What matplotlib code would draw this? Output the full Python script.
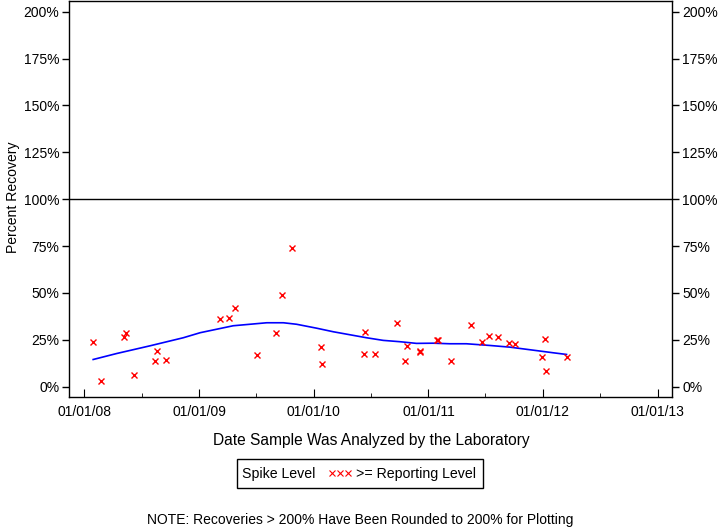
import matplotlib
matplotlib.use('Agg')
import matplotlib.pyplot as plt
import matplotlib.dates as mdates
from matplotlib.lines import Line2D
from matplotlib.patches import Rectangle
import pandas as pd

plt.rcParams['font.family'] = ['Liberation Sans', 'DejaVu Sans']

# Spike recoveries (all >= reporting level)
dates = ['2008-01-29', '2008-02-22', '2008-05-06', '2008-05-14', '2008-06-08',
         '2008-08-18', '2008-08-14', '2008-09-18', '2009-03-09', '2009-04-05',
         '2009-04-26', '2009-07-03', '2009-09-01', '2009-09-20', '2009-10-25',
         '2010-01-24', '2010-01-26', '2010-06-09', '2010-06-14', '2010-07-15',
         '2010-09-22', '2010-10-19', '2010-10-25', '2010-12-06', '2010-12-05',
         '2011-01-27', '2011-02-01', '2011-03-15', '2011-05-17', '2011-06-21',
         '2011-07-13', '2011-08-11', '2011-09-14', '2011-10-04', '2011-12-29',
         '2012-01-09', '2012-01-10', '2012-03-17']
recovery = [24.0, 3.0, 26.6, 28.8, 6.0,
            19.2, 13.8, 14.5, 36.2, 36.4,
            41.9, 17.0, 28.5, 49.0, 73.8,
            21.3, 12.2, 17.6, 29.3, 17.4,
            34.1, 13.8, 21.6, 19.0, 18.5,
            24.8, 24.8, 13.8, 33.0, 24.1,
            27.3, 26.3, 23.4, 22.9, 16.0,
            25.6, 8.5, 15.6]

# smoothed trend line
trend_dates = ['2008-01-29', '2008-04-13', '2008-07-28', '2008-11-11', '2009-01-04',
               '2009-04-19', '2009-08-04', '2009-09-26', '2009-11-07', '2010-01-10',
               '2010-03-04', '2010-04-26', '2010-06-18', '2010-08-10', '2010-10-02',
               '2010-11-24', '2011-01-16', '2011-03-10', '2011-05-02', '2011-07-15',
               '2011-09-17', '2011-11-30', '2012-02-02', '2012-03-16']
trend = [14.5, 17.7, 21.8, 26.1, 28.8,
         32.5, 34.1, 34.1, 33.3, 31.2,
         29.3, 27.7, 26.1, 24.7, 24.0,
         23.1, 23.2, 22.9, 22.9, 22.0,
         21.1, 19.5, 18.1, 17.2]

yticks = [0, 25, 50, 75, 100, 125, 150, 175, 200]
xtick_dates = ['2008-01-01', '2009-01-01', '2010-01-01', '2011-01-01', '2012-01-01', '2013-01-01']

x = pd.to_datetime(dates)
xt = pd.to_datetime(trend_dates)

fig = plt.figure(figsize=(7.2, 5.28), dpi=100)
ax = fig.add_axes([69 / 720, 1 - 397 / 528, 603.3 / 720, 396.5 / 528])

ax.axhline(100, color='black', lw=1)
ax.plot(xt, trend, color='blue', lw=1.2)
ax.plot(x, recovery, 'x', color='red', ms=5, mew=1)

ax.set_xlim(pd.Timestamp('2007-11-13'), pd.Timestamp('2013-02-16'))
ax.set_ylim(-5.5, 206)

ax.set_yticks(yticks)
ax.set_yticklabels([f'{v}%' for v in yticks])
ax.tick_params(axis='y', direction='out', length=5, labelsize=10,
               right=True, labelright=True, width=1, pad=2)
ax.set_xticks(pd.to_datetime(xtick_dates))
ax.xaxis.set_major_formatter(mdates.DateFormatter('%m/%d/%y'))
ax.xaxis.set_minor_locator(mdates.MonthLocator(bymonth=7))
ax.tick_params(axis='x', which='major', direction='in', length=5.5, labelsize=10, pad=6)
ax.tick_params(axis='x', which='minor', direction='in', length=3)
for s in ax.spines.values():
    s.set_linewidth(1)

fig.text(13 / 720, 1 - 197 / 528, 'Percent Recovery', fontsize=10.1,
         rotation=90, ha='center', va='center')
fig.text(371 / 720, 1 - 440 / 528, 'Date Sample Was Analyzed by the Laboratory',
         fontsize=11.2, ha='center', va='center')

# legend box
fig.add_artist(Rectangle((237.3 / 720, 1 - 487.7 / 528), 245.4 / 720, 28.4 / 528,
                         transform=fig.transFigure, fill=False, edgecolor='black', lw=1))
fig.text(241.7 / 720, 1 - 474 / 528, 'Spike Level', fontsize=10.2, va='center', ha='left')
fig.add_artist(Line2D([332 / 720, 340 / 720, 348 / 720], [1 - 472.7 / 528] * 3,
                      transform=fig.transFigure, ls='none', marker='x',
                      color='red', ms=4.2, mew=0.8))
fig.text(355.7 / 720, 1 - 474 / 528, '>= Reporting Level', fontsize=10.2, va='center', ha='left')

fig.text(360 / 720, 1 - 520 / 528, 'NOTE: Recoveries > 200% Have Been Rounded to 200% for Plotting',
         fontsize=10, ha='center', va='center')

fig.savefig('out.png', dpi=100)
